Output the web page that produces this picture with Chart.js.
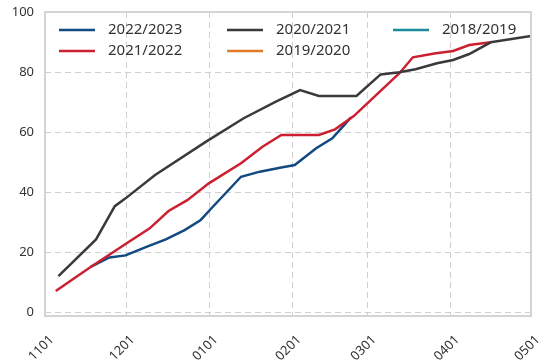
<!DOCTYPE html>
<html>
<head>
<meta charset="utf-8">
<script src="https://cdn.jsdelivr.net/npm/chart.js@4.4.0/dist/chart.umd.min.js"></script>
<style>
  body { margin: 0; background: #fff; }
  #wrap { width: 550px; height: 363px; }
</style>
</head>
<body>
<div id="wrap"><canvas id="chart" width="550" height="363"></canvas></div>
<script>
// ------------------------
// DATA (x = days since 1 Nov)
// ------------------------
const seriesNames = ['2022/2023', '2021/2022', '2020/2021', '2019/2020', '2018/2019'];

const days2223 = [17, 24, 30, 38, 45, 52, 58, 62, 73, 80, 88, 93, 101, 107, 114];
const vals2223 = [15.1, 18.2, 18.9, 21.8, 24.2, 27.3, 30.7, 34.6, 45.1, 46.8, 48.2, 49, 54.6, 57.9, 64.9];

const days2122 = [4, 17, 30, 39, 46, 53, 61, 73, 81, 88, 102, 108, 115, 132, 137, 145, 152, 158, 166];
const vals2122 = [7, 15, 22.7, 27.9, 33.7, 37.3, 42.9, 49.6, 55.1, 59, 59, 60.9, 65.3, 79.6, 84.9, 86.2, 87, 89, 89.9];

const days2021 = [5, 19, 26, 30, 41, 60, 74, 86, 95, 102, 116, 125, 132, 138, 146, 152, 158, 166, 181];
const vals2021 = [12, 24.2, 35.3, 37.9, 45.7, 56.8, 64.6, 70.1, 74, 72, 72, 79.2, 79.9, 80.9, 82.9, 84, 86, 89.9, 92];

const days1920 = [];
const vals1920 = [];
const days1819 = [];
const vals1819 = [];

const tickDays = [0, 30, 61, 92, 120, 151, 181];
const tickLabels = ['1101', '1201', '0101', '0201', '0301', '0401', '0501'];
const yTicks = [0, 20, 40, 60, 80, 100];

const colors = ['#124a80', '#cc1f2f', '#3a3a3a', '#e07b28', '#1b8a9a'];

function pts(xs, ys) { return xs.map((x, i) => ({ x: x, y: ys[i] })); }
const allData = [pts(days2223, vals2223), pts(days2122, vals2122), pts(days2021, vals2021),
                 pts(days1920, vals1920), pts(days1819, vals1819)];

// ------------------------
// PLUGINS: dashed grid, frame, in-plot legend
// ------------------------
const gridPlugin = {
  id: 'dashGrid',
  beforeDatasetsDraw(chart) {
    const a = chart.chartArea, c = chart.ctx;
    const sx = chart.scales.x, sy = chart.scales.y;
    c.save();
    c.strokeStyle = '#cfcfcf';
    c.lineWidth = 1;
    c.setLineDash([6, 4]);
    tickDays.forEach(d => {
      const px = Math.round(sx.getPixelForValue(d)) + 0.5;
      c.beginPath(); c.moveTo(px, a.top); c.lineTo(px, a.bottom); c.stroke();
    });
    yTicks.forEach(v => {
      const py = Math.round(sy.getPixelForValue(v)) + 0.5;
      c.beginPath(); c.moveTo(a.left, py); c.lineTo(a.right, py); c.stroke();
    });
    c.restore();
  }
};

const framePlugin = {
  id: 'frame',
  afterDraw(chart) {
    const a = chart.chartArea, c = chart.ctx;
    c.save();
    c.strokeStyle = '#d4d4d4';
    c.lineWidth = 2;
    c.strokeRect(a.left, a.top, a.right - a.left, a.bottom - a.top);
    c.restore();
  }
};

const legendPlugin = {
  id: 'inLegend',
  afterDraw(chart) {
    const c = chart.ctx;
    const cols = [59, 227, 393];
    const rows = [30, 51];
    c.save();
    c.font = '15px "Noto Sans", sans-serif';
    c.textBaseline = 'middle';
    c.fillStyle = '#333';
    seriesNames.forEach((name, i) => {
      const x = cols[Math.floor(i / 2)], y = rows[i % 2];
      c.strokeStyle = colors[i];
      c.lineWidth = 2.5;
      c.beginPath(); c.moveTo(x, y); c.lineTo(x + 36, y); c.stroke();
      c.fillText(name, x + 49, y);
    });
    c.restore();
  }
};

// ------------------------
// CHART
// ------------------------
new Chart(document.getElementById('chart'), {
  type: 'line',
  data: {
    datasets: seriesNames.map((n, i) => ({
      label: n,
      data: allData[i],
      borderColor: colors[i],
      backgroundColor: colors[i],
      borderWidth: 2.5,
      pointRadius: 0,
      tension: 0,
      order: i === 2 ? 0 : (i === 1 ? 1 : 2)
    }))
  },
  options: {
    responsive: false,
    animation: false,
    layout: { padding: { top: 12, right: 19, left: 0, bottom: 0 } },
    plugins: { legend: { display: false }, tooltip: { enabled: false } },
    scales: {
      x: {
        type: 'linear',
        min: 0, max: 181,
        afterBuildTicks: s => { s.ticks = tickDays.map(v => ({ value: v })); },
        afterFit: s => { s.height = 47; s.paddingRight = 0; s.paddingLeft = 0; },
        ticks: {
          callback: v => tickLabels[tickDays.indexOf(v)],
          minRotation: 45, maxRotation: 45,
          labelOffset: 7,
          padding: 16,
          color: '#333',
          font: { family: '"Noto Sans", sans-serif', size: 13 }
        },
        grid: { display: false, drawTicks: false },
        border: { display: false }
      },
      y: {
        min: -1.3, max: 100,
        afterBuildTicks: s => { s.ticks = yTicks.map(v => ({ value: v })); },
        afterFit: s => { s.width = 45; s.paddingTop = 0; s.paddingBottom = 0; },
        ticks: {
          padding: 11,
          color: '#333',
          font: { family: '"Noto Sans", sans-serif', size: 13 }
        },
        grid: { display: false, drawTicks: false },
        border: { display: false }
      }
    }
  },
  plugins: [gridPlugin, framePlugin, legendPlugin]
});
</script>
</body>
</html>
